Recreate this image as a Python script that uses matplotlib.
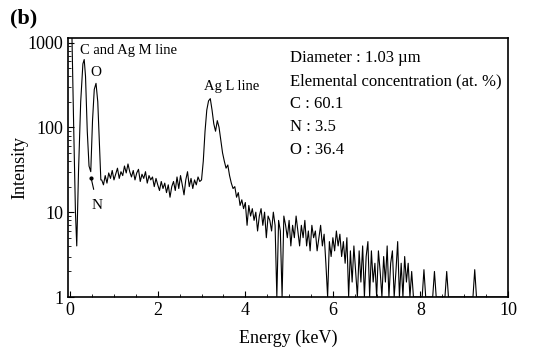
import numpy as np
import matplotlib
matplotlib.use("Agg")
import matplotlib.pyplot as plt
from matplotlib.ticker import LogLocator, FixedLocator, NullFormatter

plt.rcParams['font.family'] = ['Liberation Serif', 'DejaVu Serif']
plt.rcParams['mathtext.fontset'] = 'stix'

# --- low-energy region (zero peak, C, N, O) ---
energy_low = [0.00, 0.04, 0.08, 0.12, 0.15, 0.19, 0.24, 0.29, 0.32, 0.35, 0.39,
              0.43, 0.47, 0.51, 0.55, 0.59, 0.63, 0.67, 0.70]
counts_low = [2000, 1200, 100, 10, 4, 30, 200, 560, 630, 400, 90,
              35, 30, 120, 280, 330, 200, 60, 24]

# --- continuum + Ag L + tail, channels every 0.04 keV from 0.72 keV ---
start_energy = 0.72
channel_width = 0.04
counts_main = [
    24, 21, 27, 22, 29, 25, 31, 24, 28, 33, 25, 30, 27, 35, 29, 37, 30, 26, 31, 24,   # 0.72-1.48
    29, 32, 23, 28, 25, 30, 22, 27, 24, 26, 20, 25, 21, 18, 23, 19, 22, 17, 21, 15,   # 1.52-2.28
    20, 23, 18, 26, 19, 27, 21, 16, 24, 30, 20, 25, 19, 24, 21, 26, 23,               # 2.32-2.96
    24, 40, 90, 160, 205, 218, 160, 110, 90, 120, 100, 70, 50, 40, 33, 36, 27, 22,    # 3.00-3.68
    19, 20, 15, 17, 12, 14, 11, 13, 7, 12, 9, 11, 8, 10, 6, 9, 11, 7, 10, 5,          # 3.72-4.48
    9, 8, 6, 10, 7, 1, 8, 6, 1, 9, 7, 5, 8, 4, 7, 5, 9, 6, 4, 7,                      # 4.52-5.28
    5, 8, 4, 6, 3.5, 7, 5, 6, 3.5, 5, 7, 4, 5.5, 2.5, 1, 4.5, 3, 5, 3.5, 6,           # 5.32-6.08
    4, 5.5, 3, 4.5, 2.5, 5, 1, 3.5, 1.5, 4, 2, 1, 3.5, 1.5, 4, 1, 3, 4.5, 1, 3.5,     # 6.12-6.88
    1.5, 2.5, 1, 3.5, 2, 1, 3, 1.5, 4, 1, 2.5, 3.5, 1, 2, 4.5, 1, 2.5, 1, 3, 1.5,     # 6.92-7.68
    2.5, 1, 2, 1,                                                                     # 7.72-7.84
]

# --- isolated single counts at high energy ---
energy_high = [7.88, 8.04, 8.08, 8.12, 8.28, 8.32, 8.36, 8.56, 8.60, 8.64, 9.20, 9.24, 9.28, 10.0]
counts_high = [1, 1, 2.1, 1, 1, 2.0, 1, 1, 2.0, 1, 1, 2.1, 1, 1]

energy_main = list(np.round(start_energy + channel_width * np.arange(len(counts_main)), 3))
energy = np.array(energy_low + energy_main + energy_high)
counts = np.array(counts_low + counts_main + counts_high, dtype=float)

fig = plt.figure(figsize=(5.52, 3.53), dpi=100)
ax = fig.add_axes([68/552, 56/353, 440/552, 259/353])

ax.plot(energy, counts, color='black', lw=0.8)
ax.set_yscale('log')
ax.set_xlim(-0.05, 10)
ax.set_ylim(1, 1130)

ax.xaxis.set_major_locator(FixedLocator([0, 2, 4, 6, 8, 10]))
ax.xaxis.set_minor_locator(FixedLocator(np.arange(0, 10.01, 0.5)))
ax.yaxis.set_major_locator(FixedLocator([1, 10, 100, 1000]))
ax.yaxis.set_minor_locator(LogLocator(base=10, subs=np.arange(2, 10)))
ax.yaxis.set_minor_formatter(NullFormatter())
ax.set_yticklabels(['1', '10', '100', '1000'])
ax.tick_params(which='both', direction='in', labelsize=13, top=False, right=False)
ax.tick_params(which='major', length=4)
ax.tick_params(which='minor', length=2)
for s in ax.spines.values():
    s.set_linewidth(1.2)

ax.set_xlabel('Energy (keV)', fontsize=13, labelpad=8)
ax.set_ylabel('Intensity', fontsize=13, labelpad=-1)

fig.text(10/552, 1 - 18/353, '(b)', fontsize=16, fontweight='bold', va='center', ha='left')

ax.text(0.23, 810, 'C and Ag M line', fontsize=10.5, ha='left', va='center')
ax.text(0.59, 440, 'O', fontsize=11, ha='center', va='center')
ax.annotate('N', xy=(0.48, 25), xytext=(0.62, 12), fontsize=11, ha='center', va='center',
            arrowprops=dict(arrowstyle='-', lw=0.8, color='black', shrinkA=5, shrinkB=0))
ax.plot([0.48], [25], marker='o', ms=2, color='black')
ax.text(3.68, 300, 'Ag L line', fontsize=10.5, ha='center', va='center')

info = ['Diameter : 1.03 \u00b5m', 'Elemental concentration (at. %)',
        'C : 60.1', 'N : 3.5', 'O : 36.4']
ys = [0.923, 0.834, 0.745, 0.656, 0.568]
for t, y in zip(info, ys):
    ax.text(0.505, y, t, transform=ax.transAxes, fontsize=12, ha='left', va='center')

fig.savefig('out.png', dpi=100)
